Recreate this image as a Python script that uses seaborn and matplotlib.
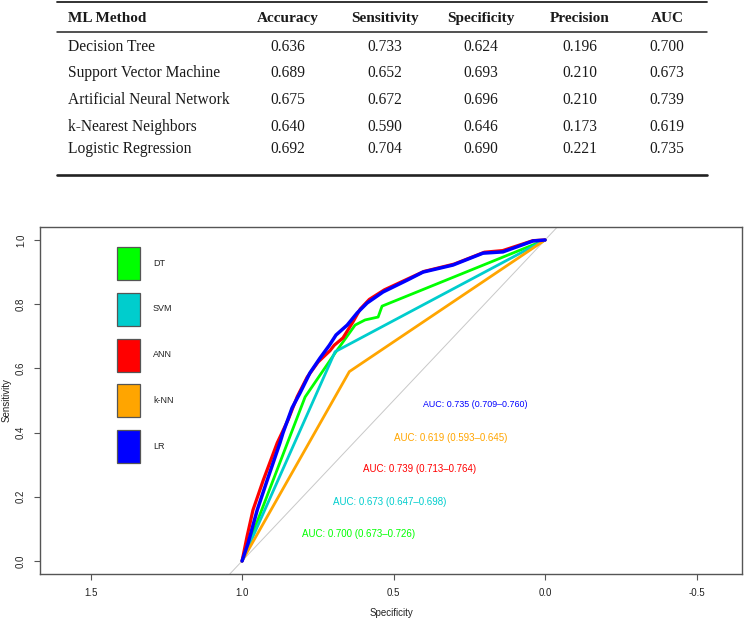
import matplotlib
matplotlib.use("Agg")
import matplotlib.pyplot as plt
import seaborn as sns
import pandas as pd
from matplotlib.patches import Patch
from matplotlib.lines import Line2D

# ---------------- table data ----------------
table_header = ["ML Method", "Accuracy", "Sensitivity", "Specificity", "Precision", "AUC"]
methods = ["Decision Tree", "Support Vector Machine", "Artificial Neural Network",
           "k-Nearest Neighbors", "Logistic Regression"]
accuracy = ["0.636", "0.689", "0.675", "0.640", "0.692"]
sensitivity = ["0.733", "0.652", "0.672", "0.590", "0.704"]
specificity = ["0.624", "0.693", "0.696", "0.646", "0.690"]
precision = ["0.196", "0.210", "0.210", "0.173", "0.221"]
auc = ["0.700", "0.673", "0.739", "0.619", "0.735"]

# ---------------- ROC data ----------------
short_names = ["DT", "SVM", "ANN", "k-NN", "LR"]
colors = ["#00FF00", "#00CDCD", "#FF0000", "#FFA500", "#0000FF"]
auc_labels = ["AUC: 0.700 (0.673\u20130.726)", "AUC: 0.673 (0.647\u20130.698)",
              "AUC: 0.739 (0.713\u20130.764)", "AUC: 0.619 (0.593\u20130.645)",
              "AUC: 0.735 (0.709\u20130.760)"]

dt_spec = [1.0, 0.792, 0.693, 0.627, 0.594, 0.551, 0.538, 0.0]
dt_sens = [0.0, 0.511, 0.648, 0.735, 0.751, 0.760, 0.794, 1.0]

svm_spec = [1.0, 0.693, 0.0]
svm_sens = [0.0, 0.652, 1.0]

ann_spec = [1.0, 0.984, 0.964, 0.930, 0.884, 0.848, 0.818, 0.785, 0.749, 0.710,
            0.696, 0.667, 0.634, 0.610, 0.580, 0.530, 0.455, 0.400, 0.300, 0.200,
            0.140, 0.040, 0.0]
ann_sens = [0.0, 0.075, 0.159, 0.252, 0.368, 0.440, 0.512, 0.573, 0.620, 0.655,
            0.672, 0.695, 0.745, 0.785, 0.815, 0.845, 0.878, 0.902, 0.925, 0.962,
            0.967, 0.998, 1.0]

knn_spec = [1.0, 0.646, 0.0]
knn_sens = [0.0, 0.590, 1.0]

lr_spec = [1.0, 0.980, 0.950, 0.917, 0.875, 0.865, 0.835, 0.809, 0.776, 0.743,
           0.712, 0.690, 0.653, 0.620, 0.587, 0.535, 0.455, 0.403, 0.304, 0.205,
           0.139, 0.040, 0.0]
lr_sens = [0.0, 0.056, 0.159, 0.252, 0.368, 0.399, 0.477, 0.523, 0.586, 0.632,
           0.672, 0.704, 0.735, 0.773, 0.804, 0.838, 0.875, 0.900, 0.922, 0.959,
           0.963, 0.997, 1.0]

x_ticks = [1.5, 1.0, 0.5, 0.0, -0.5]
y_ticks = [0.0, 0.2, 0.4, 0.6, 0.8, 1.0]

sns.set_theme(style="white")
plt.rcParams["font.family"] = ["Liberation Sans", "DejaVu Sans"]

W, H = 750, 619
fig = plt.figure(figsize=(7.5, 6.19), dpi=100)

# ---------------- table ----------------
tab_h = 185
axt = fig.add_axes([0, 1 - tab_h / H, 1, tab_h / H])
axt.set_xlim(0, W)
axt.set_ylim(tab_h, 0)
axt.axis("off")
serif = ["Liberation Serif", "DejaVu Serif"]
col_x = [68, 288, 385, 481, 580, 667]
header_base = 22
row_base = [50.7, 77.3, 104.0, 130.7, 152.7]
tc = "#1a1a1a"
for j, h in enumerate(table_header):
    axt.text(col_x[j], header_base, h, family=serif, weight="bold", fontsize=11,
             ha="left" if j == 0 else "center", va="baseline", color=tc)
cols = [methods, accuracy, sensitivity, specificity, precision, auc]
for i in range(len(methods)):
    for j, col in enumerate(cols):
        axt.text(col_x[j], row_base[i], col[i], family=serif, fontsize=11.2,
                 ha="left" if j == 0 else "center", va="baseline", color=tc)
axt.add_line(Line2D([57, 707], [2, 2], color="#222222", lw=1.3))
axt.add_line(Line2D([57, 707], [32, 32], color="#222222", lw=1.1))
axt.add_line(Line2D([57, 707], [175, 175], color="#222222", lw=1.9))

# ---------------- ROC plot ----------------
ax = fig.add_axes([40 / W, 1 - 574 / H, (742 - 40) / W, (574 - 227) / H])
ax.axline((1, 0), (0, 1), color="#c8c8c8", lw=0.7, zorder=1)

curves = [(dt_spec, dt_sens), (svm_spec, svm_sens), (ann_spec, ann_sens),
          (knn_spec, knn_sens), (lr_spec, lr_sens)]
widths = [2.0, 2.0, 2.3, 2.0, 2.5]
for (sx, sy), c, lw in zip(curves, colors, widths):
    sns.lineplot(x=sx, y=sy, color=c, lw=lw, sort=False, estimator=None, ax=ax,
                 zorder=3)

label_pos = [(0.614, 0.084), (0.512, 0.184), (0.413, 0.287), (0.313, 0.383), (0.231, 0.486)]
label_size = [7, 7, 7, 7, 6.4]
for (px, py), txt, c, fs in zip(label_pos, auc_labels, colors, label_size):
    ax.text(px, py, txt, color=c, fontsize=fs, ha="center", va="center")

ax.set_xlim(1.667, -0.65)
ax.set_ylim(-0.0405, 1.0405)
ax.set_xticks(x_ticks)
ax.set_xticklabels([f"{v:.1f}" for v in x_ticks])
ax.set_yticks(y_ticks)
ax.set_yticklabels([f"{v:.1f}" for v in y_ticks], rotation=90, va="center")
ax.tick_params(axis="both", direction="out", length=4.5, width=0.8, color="#555555",
               labelsize=7, labelcolor="#222222", pad=5.5, left=True, bottom=True)
for s in ax.spines.values():
    s.set_color("#555555")
    s.set_linewidth(1.0)
ax.set_xlabel("Specificity", fontsize=7, color="#222222", labelpad=7)
ax.set_ylabel("Sensitivity", fontsize=7, color="#222222", labelpad=3)

handles = [Patch(facecolor=c, edgecolor="#555555", lw=0.9, label=n)
           for c, n in zip(colors, short_names)]
fs_leg = 6.5
ax.legend(handles=handles, loc="upper left",
          bbox_to_anchor=(117 / W, 1 - 247 / H), bbox_transform=fig.transFigure,
          frameon=False, fontsize=fs_leg, borderpad=0, borderaxespad=0,
          handlelength=23 * 0.72 / fs_leg, handleheight=(33 * 0.72 / fs_leg - 0.245) / 0.65,
          labelspacing=12.8 * 0.72 / fs_leg,
          handletextpad=13 * 0.72 / fs_leg, labelcolor="#222222")

fig.savefig("out.png", dpi=100)
